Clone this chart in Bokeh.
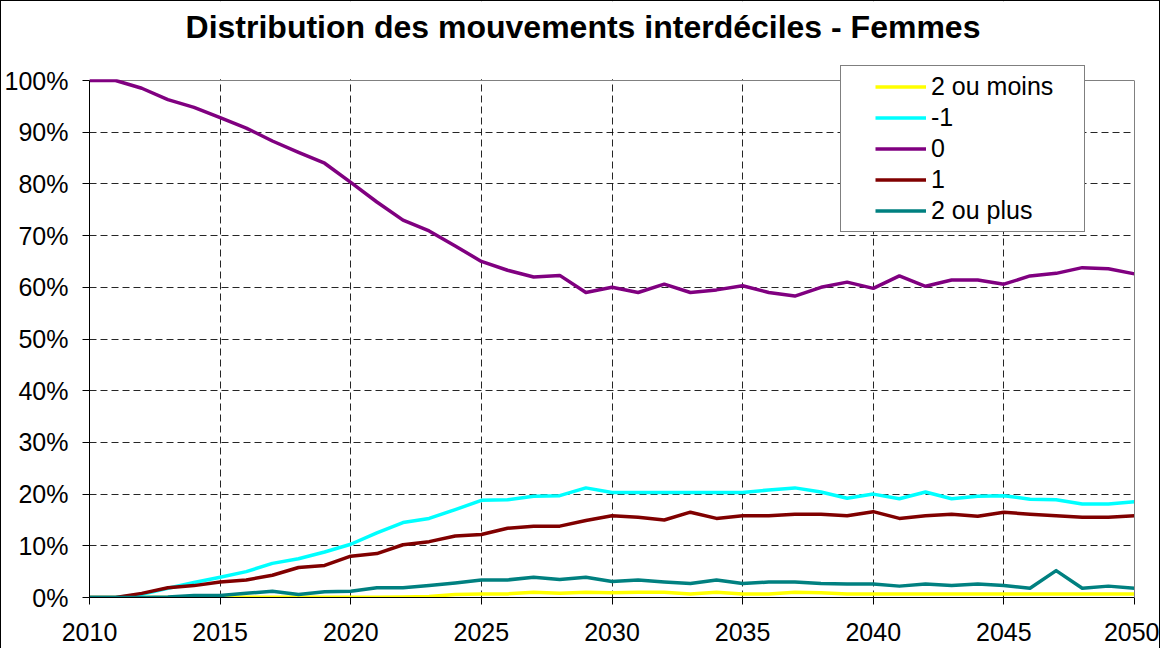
from bokeh.plotting import figure
from bokeh.models import (Legend, LegendItem, NumeralTickFormatter, FixedTicker, Range1d,
                          ColumnDataSource, BoxAnnotation, Span, LinearAxis, Label)
from bokeh.embed import file_html
from bokeh.resources import INLINE

years = list(range(2010, 2051))

series_names = ["2 ou moins", "-1", "0", "1", "2 ou plus"]
series_colors = ["#FFFF00", "#00FFFF", "#800080", "#800000", "#008080"]

# values in percent, one per year 2010..2050
v_2_ou_moins = [0, 0, 0, 0, 0, 0.05, 0.05, 0.05, 0.05, 0.05, 0.05, 0.05, 0.1, 0.2, 0.6,
                0.7, 0.7, 1.0, 0.8, 1.0, 0.9, 1.0, 1.0, 0.7, 1.0, 0.7, 0.7, 1.0, 0.9, 0.7,
                0.7, 0.7, 0.7, 0.7, 0.7, 0.7, 0.7, 0.7, 0.7, 0.7, 0.7]
v_moins_1 = [0, 0, 0.6, 1.8, 2.9, 3.9, 5.0, 6.6, 7.5, 8.8, 10.3, 12.5, 14.5, 15.3, 17.0,
             18.8, 18.9, 19.6, 19.7, 21.2, 20.3, 20.3, 20.3, 20.3, 20.3, 20.3, 20.8, 21.2, 20.4, 19.2,
             20.0, 19.1, 20.4, 19.1, 19.6, 19.7, 19.0, 18.9, 18.1, 18.1, 18.5]
v_0 = [100, 100, 98.5, 96.3, 94.8, 92.8, 90.8, 88.3, 86.1, 84.0, 80.3, 76.5, 73.0, 70.9, 68.0,
       65.0, 63.3, 62.0, 62.3, 59.0, 60.0, 59.0, 60.6, 59.0, 59.5, 60.3, 59.0, 58.3, 60.0, 61.0,
       59.8, 62.2, 60.2, 61.4, 61.4, 60.6, 62.2, 62.7, 63.8, 63.6, 62.6]
v_1 = [0, 0, 0.8, 1.9, 2.3, 3.0, 3.4, 4.3, 5.8, 6.2, 8.0, 8.5, 10.2, 10.8, 11.9,
       12.2, 13.4, 13.8, 13.8, 14.9, 15.8, 15.5, 15.0, 16.5, 15.3, 15.8, 15.8, 16.1, 16.1, 15.8,
       16.6, 15.3, 15.8, 16.1, 15.7, 16.5, 16.1, 15.8, 15.5, 15.5, 15.8]
v_2_ou_plus = [0, 0, 0, 0.1, 0.4, 0.4, 0.8, 1.2, 0.6, 1.1, 1.2, 1.9, 1.9, 2.3, 2.8,
               3.4, 3.4, 3.9, 3.5, 3.9, 3.1, 3.4, 3.0, 2.7, 3.4, 2.7, 3.0, 3.0, 2.7, 2.6,
               2.6, 2.2, 2.6, 2.3, 2.6, 2.3, 1.8, 5.2, 1.8, 2.2, 1.8]

all_values = [v_2_ou_moins, v_moins_1, v_0, v_1, v_2_ou_plus]

x_ticks = [2010, 2015, 2020, 2025, 2030, 2035, 2040, 2045, 2050]
y_ticks = [0, 0.1, 0.2, 0.3, 0.4, 0.5, 0.6, 0.7, 0.8, 0.9, 1.0]

TITLE = "Distribution des mouvements interdéciles - Femmes"
FONT = "Liberation Sans"

# layout constants (pixels)
PX_PER_UNIT = 517.0            # pixels from 0% to 100%
PX_PER_YEAR = 1045.0 / 40.0    # pixels per year
TOP_SPACE = 79                 # pixels between the canvas top and the 100% line
Y_TOP = 1.0 + TOP_SPACE / PX_PER_UNIT

p = figure(width=1160, height=648, output_backend="svg", toolbar_location=None,
           x_range=Range1d(2010, 2050), y_range=Range1d(0, Y_TOP),
           min_border_left=88, min_border_right=27, min_border_top=0, min_border_bottom=52)
p.styles = {"border-left": "1px solid black", "border-top": "1px solid black",
            "border-right": "1px solid black"}

p.background_fill_color = "white"
p.border_fill_color = "white"
p.outline_line_color = None

for ax in (p.xaxis[0], p.yaxis[0]):
    ax.axis_line_color = "black"
    ax.axis_line_width = 1
    ax.major_tick_line_color = "black"
    ax.major_tick_out = 7
    ax.major_tick_in = 0
    ax.minor_tick_line_color = None
    ax.major_label_text_font = FONT
    ax.major_label_text_font_size = "25px"
    ax.major_label_text_color = "black"

p.xaxis.ticker = FixedTicker(ticks=x_ticks)
p.yaxis.ticker = FixedTicker(ticks=y_ticks)
p.yaxis.bounds = (0, 1)
p.yaxis.formatter = NumeralTickFormatter(format="0%")
p.xaxis.major_label_standoff = 18
p.yaxis.major_label_standoff = 14

# right border of the plot area (gray), only from 0% to 100%
right_ax = LinearAxis(bounds=(0, 1), axis_line_color="#808080", axis_line_width=1,
                      major_tick_line_color=None, minor_tick_line_color=None,
                      major_label_text_font_size="0px", major_label_standoff=0,
                      ticker=FixedTicker(ticks=[]))
p.add_layout(right_ax, "right")

p.xgrid.ticker = FixedTicker(ticks=x_ticks[1:-1])
p.ygrid.ticker = FixedTicker(ticks=y_ticks[1:-1])
for g in (p.xgrid[0], p.ygrid[0]):
    g.grid_line_color = "black"
    g.grid_line_width = 1
    g.grid_line_dash = "7 4"
    g.grid_line_alpha = 0.85

# top border of the plot area at 100% (gray)
p.add_layout(Span(location=1.0, dimension="width", line_color="#808080", line_width=1,
                  level="underlay"))

items = []
for name, color, vals in zip(series_names, series_colors, all_values):
    src = ColumnDataSource(dict(x=years, y=[v / 100 for v in vals]))
    r = p.line("x", "y", source=src, line_color=color, line_width=3.5, line_join="round")
    items.append(LegendItem(label=name, renderers=[r]))

# blank the strip above 100% (grid lines there)
p.add_layout(BoxAnnotation(bottom=1.0 + 1.2 / PX_PER_UNIT, fill_color="white", fill_alpha=1,
                           line_color=None))

# chart title, drawn in the blank strip above the plot area
p.add_layout(Label(x=2010 + (590.5 - 97) / PX_PER_YEAR, y=1.0 + (88 - 34.7) / PX_PER_UNIT,
                   text=TITLE, text_align="center", text_baseline="middle",
                   text_font=FONT, text_font_size="32px", text_font_style="bold",
                   text_color="black"))

legend = Legend(items=items, location=(751, 365))
legend.border_line_color = "black"
legend.border_line_width = 1
legend.background_fill_color = "white"
legend.background_fill_alpha = 1
legend.label_text_font = FONT
legend.label_text_font_size = "25px"
legend.label_text_color = "black"
legend.glyph_width = 51
legend.glyph_height = 29
legend.label_height = 29
legend.spacing = 2
legend.label_standoff = 5
legend.margin = 0
try:
    legend.padding = dict(left=34, right=31, top=6, bottom=6)
except Exception:
    legend.padding = 6
p.add_layout(legend)

open("out.html", "w").write(file_html(p, INLINE))
